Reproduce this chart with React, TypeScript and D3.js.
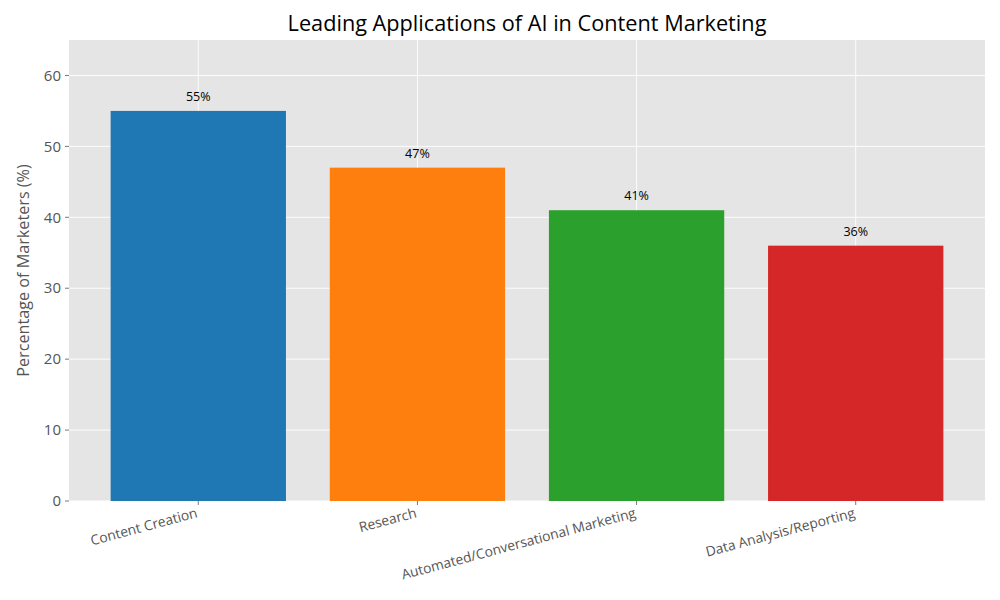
import React from "react";
import * as d3 from "d3";

const categories = ["Content Creation", "Research", "Automated/Conversational Marketing", "Data Analysis/Reporting"];
const values = [55, 47, 41, 36];
const colors = ["#1f77b4", "#ff7f0e", "#2ca02c", "#d62728"];
const yTicks = [0, 10, 20, 30, 40, 50, 60];

const W = 1000, H = 600;
const M = { left: 69, right: 985, top: 40, bottom: 501 };
const FONT = "'Open Sans', Roboto, sans-serif";

export default function App() {
  const x = d3.scaleLinear().domain([-0.59, categories.length - 1 + 0.59]).range([M.left, M.right]);
  const y = d3.scaleLinear().domain([0, 65]).range([M.bottom, M.top]);
  const bw = x(0.4) - x(-0.4);
  return (
    <svg width={W} height={H} style={{ display: "block", position: "absolute", left: 0, top: 0 }} fontFamily={FONT}>
      <rect x={0} y={0} width={W} height={H} fill="#fff" />
      <rect x={M.left} y={M.top} width={M.right - M.left} height={M.bottom - M.top} fill="#E5E5E5" />
      {yTicks.map((t) => (
        <line key={"gy" + t} x1={M.left} x2={M.right} y1={y(t)} y2={y(t)} stroke="#fff" strokeWidth={0.9} />
      ))}
      {categories.map((c, i) => (
        <line key={"gx" + i} x1={x(i)} x2={x(i)} y1={M.top} y2={M.bottom} stroke="#fff" strokeWidth={0.9} />
      ))}
      {values.map((v, i) => (
        <rect key={"b" + i} x={x(i) - bw / 2} y={y(v)} width={bw} height={y(0) - y(v)} fill={colors[i]} />
      ))}
      {values.map((v, i) => (
        <text key={"l" + i} x={x(i)} y={y(v) - 10} textAnchor="middle" fontSize={12.5} fill="#000">
          {v}%
        </text>
      ))}
      {yTicks.map((t) => (
        <g key={"ty" + t}>
          <line x1={M.left - 4} x2={M.left} y1={y(t)} y2={y(t)} stroke="#555" strokeWidth={0.8} />
          <text x={M.left - 8} y={y(t)} dy="0.35em" textAnchor="end" fontSize={15} fill="#555">{t}</text>
        </g>
      ))}
      {categories.map((c, i) => (
        <g key={"tx" + i}>
          <line x1={x(i)} x2={x(i)} y1={M.bottom} y2={M.bottom + 4} stroke="#555" strokeWidth={0.8} />
          <text transform={`translate(${x(i)},${M.bottom + 16}) rotate(-15)`} textAnchor="end" fontSize={13.8} fill="#555">
            {c}
          </text>
        </g>
      ))}
      <text transform={`translate(29,${(M.top + M.bottom) / 2}) rotate(-90)`} textAnchor="middle" fontSize={16.2} fill="#555">
        Percentage of Marketers (%)
      </text>
      <text x={(M.left + M.right) / 2} y={31} textAnchor="middle" fontSize={21.7} fill="#000">
        Leading Applications of AI in Content Marketing
      </text>
    </svg>
  );
}
